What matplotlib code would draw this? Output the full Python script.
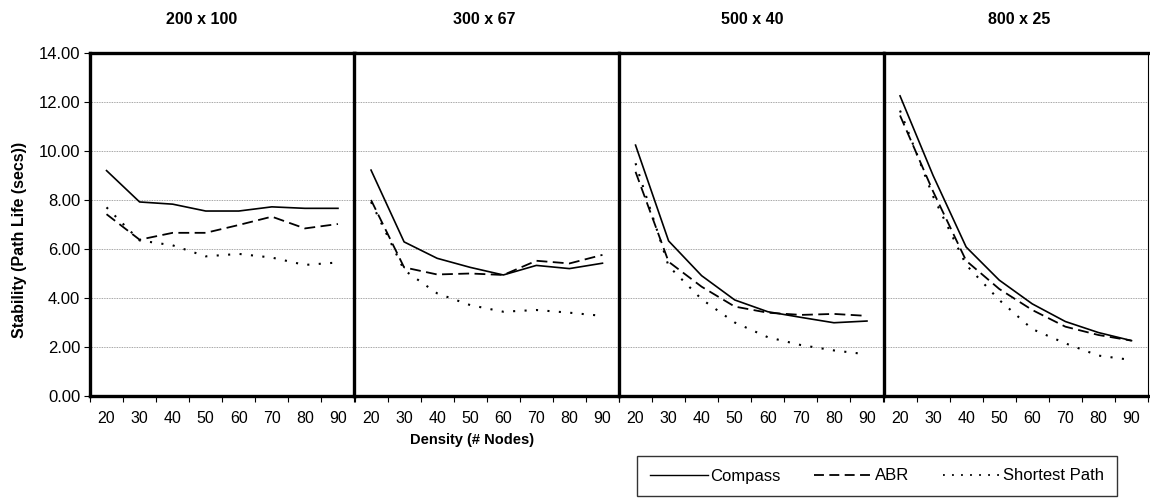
#!/usr/bin/env python3

import matplotlib
matplotlib.use('Agg')
import matplotlib.pyplot as plt
from matplotlib.lines import Line2D

plt.rcParams['font.family'] = ['Liberation Sans', 'DejaVu Sans']

# 값
density = [20, 30, 40, 50, 60, 70, 80, 90]
areas = ['200 x 100', '300 x 67', '500 x 40', '800 x 25']

compass = [
    [9.20, 7.92, 7.83, 7.55, 7.55, 7.72, 7.66, 7.66],
    [9.22, 6.29, 5.62, 5.25, 4.94, 5.33, 5.20, 5.42],
    [10.24, 6.33, 4.91, 3.92, 3.44, 3.21, 2.99, 3.06],
    [12.25, 9.00, 6.08, 4.73, 3.76, 3.04, 2.59, 2.26],
]
abr = [
    [7.42, 6.38, 6.66, 6.66, 6.98, 7.32, 6.84, 7.02],
    [8.00, 5.25, 4.96, 5.00, 4.94, 5.52, 5.41, 5.76],
    [9.15, 5.48, 4.46, 3.65, 3.40, 3.31, 3.35, 3.27],
    [11.45, 8.35, 5.52, 4.37, 3.51, 2.83, 2.49, 2.26],
]
shortest = [
    [7.70, 6.35, 6.15, 5.70, 5.80, 5.65, 5.35, 5.45],
    [7.92, 5.14, 4.19, 3.71, 3.44, 3.51, 3.40, 3.27],
    [9.50, 5.30, 3.95, 3.00, 2.40, 2.08, 1.86, 1.70],
    [11.65, 8.15, 5.35, 3.92, 2.73, 2.15, 1.65, 1.47],
]

W, H = 1150, 501
LEFT, RIGHT, TOP, BOTTOM = 90, 1148, 53, 396
title_x = [202, 484, 752, 1019]  # 제목 위치 (픽셀)

fig = plt.figure(figsize=(W / 100, H / 100), dpi=100)

panel_w = (RIGHT - LEFT) / 4
dash_style = (0, (6, 3))
dot_style = (0, (1, 4.5))

for i in range(4):
    ax = fig.add_axes([(LEFT + i * panel_w) / W, 1 - BOTTOM / H,
                       panel_w / W, (BOTTOM - TOP) / H])
    xs = list(range(len(density)))

    ax.plot(xs, compass[i], color='black', linewidth=1.2, linestyle='-')
    ax.plot(xs, abr[i], color='black', linewidth=1.3, linestyle=dash_style)
    ax.plot(xs, shortest[i], color='black', linewidth=1.5, linestyle=dot_style)

    ax.set_xlim(-0.5, 7.5)
    ax.set_ylim(0, 14)
    ax.set_yticks(range(0, 15, 2))
    ax.yaxis.grid(True, color='#888888', linestyle=(0, (1, 1)), linewidth=0.6)
    ax.set_axisbelow(True)

    ax.set_xticks(xs)
    ax.set_xticklabels([str(d) for d in density], fontsize=11.5)
    ax.set_xticks([x - 0.5 for x in range(9)], minor=True)
    ax.tick_params(axis='x', which='major', length=0, pad=11)
    ax.tick_params(axis='x', which='minor', length=4, width=0.8, direction='out')

    if i == 0:
        ax.set_yticklabels(['%.2f' % v for v in range(0, 15, 2)], fontsize=12)
        ax.tick_params(axis='y', length=4, width=0.8, direction='out', pad=3)
    else:
        ax.tick_params(axis='y', left=False, labelleft=False)

    for side in ['left', 'top', 'bottom']:
        ax.spines[side].set_linewidth(2.4)
    ax.spines['right'].set_linewidth(0.8 if i == 3 else 0)

    fig.text(title_x[i] / W, 1 - 19 / H, areas[i], ha='center', va='center',
             fontsize=11.5, fontweight='bold')

fig.text(20 / W, 1 - 240 / H, 'Stability (Path Life (secs))', rotation=90,
         ha='center', va='center', fontsize=11.5, fontweight='bold')
fig.text(472 / W, 1 - 440 / H, 'Density (# Nodes)',
         ha='center', va='center', fontsize=10.5, fontweight='bold')

handles = [
    Line2D([], [], color='black', linewidth=1.0, linestyle='-'),
    Line2D([], [], color='black', linewidth=1.3, linestyle=(0, (5.5, 3))),
    Line2D([], [], color='black', linewidth=1.3, linestyle=(0, (1, 4))),
]
leg = fig.legend(handles, ['Compass', 'ABR', 'Shortest Path'], ncol=3,
                 loc='center', bbox_to_anchor=(877 / W, 1 - 476 / H),
                 frameon=True, fancybox=False, fontsize=12, handlelength=3.5,
                 handletextpad=0.15, columnspacing=2.0, borderpad=0.75,
                 borderaxespad=0)
leg.get_frame().set_edgecolor('black')
leg.get_frame().set_linewidth(1.0)

plt.savefig('out.png', dpi=100)
plt.close()
